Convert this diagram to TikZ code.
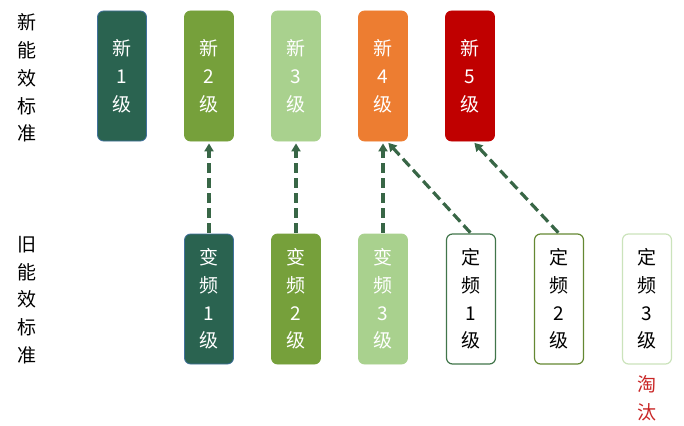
\documentclass[tikz,border=0pt]{standalone}
\usepackage{fontspec}
\newfontfamily\cjk{Noto Sans CJK SC}
\usepackage{xcolor}
\usepackage{tikz}
\usetikzlibrary{arrows.meta,positioning}
\definecolor{lvlone}{HTML}{2A6350}
\definecolor{lvltwo}{HTML}{76A03B}
\definecolor{lvlthree}{HTML}{A9D18E}
\definecolor{lvlfour}{HTML}{ED7D31}
\definecolor{lvlfive}{HTML}{C00000}
\definecolor{edgeblue}{HTML}{41719C}
\definecolor{arrgreen}{HTML}{386646}
\tikzset{
  lvl_box/.style = {rectangle, rounded corners=6pt, align=center, minimum width=49pt, minimum height=130pt, inner sep=0pt, font=\cjk\fontsize{19}{27.8}\selectfont, line width=0.8pt},
  lvl_new/.style = {lvl_box, white},
  lvl_fix/.style = {lvl_box, fill=white, text=black, line width=1.2pt},
  side_lbl/.style = {align=center, inner sep=0pt, font=\cjk\fontsize{19}{27.8}\selectfont},
  up_arr/.style = {draw=arrgreen, line width=3.2pt, dash pattern=on 10pt off 5pt, -{Triangle[width=9pt,length=8pt]}, shorten <=1pt, shorten >=2pt}
}
\begin{document}
\begin{tikzpicture}[x=1pt,y=-1pt]
  \useasboundingbox (0,0) rectangle (684,425);
  % side labels
  \node[side_lbl] (lblnew) at (27,78) {新\\能\\效\\标\\准};
  \node[side_lbl] (lblold) at (27,300) {旧\\能\\效\\标\\准};
  % new standard
  \node[lvl_new, fill=lvlone, draw=edgeblue] (new1) at (122,76) {新\\1\\级};
  \node[lvl_new, fill=lvltwo, draw=lvltwo] (new2) at (209,76) {新\\2\\级};
  \node[lvl_new, fill=lvlthree, draw=lvlthree] (new3) at (296,76) {新\\3\\级};
  \node[lvl_new, fill=lvlfour, draw=lvlfour] (new4) at (383,76) {新\\4\\级};
  \node[lvl_new, fill=lvlfive, draw=lvlfive] (new5) at (470,76) {新\\5\\级};
  % old standard
  \node[lvl_new, fill=lvlone, draw=edgeblue] (var1) at (209,299) {变\\频\\1\\级};
  \node[lvl_new, fill=lvltwo, draw=lvltwo] (var2) at (296,299) {变\\频\\2\\级};
  \node[lvl_new, fill=lvlthree, draw=lvlthree] (var3) at (383,299) {变\\频\\3\\级};
  \node[lvl_fix, draw=lvlone!70!lvltwo] (fix1) at (471,299) {定\\频\\1\\级};
  \node[lvl_fix, draw=lvltwo!85!black] (fix2) at (559,299) {定\\频\\2\\级};
  \node[lvl_fix, draw=lvlthree!60] (fix3) at (647,299) {定\\频\\3\\级};
  \node[side_lbl, text=lvlfive!85!white, below=11pt of fix3] (drop) {淘\\汰};
  % mapping
  \draw[up_arr] (var1.north) -- (new2.south);
  \draw[up_arr] (var2.north) -- (new3.south);
  \draw[up_arr] (var3.north) -- (new4.south);
  \draw[up_arr] (fix1.north) -- ([xshift=4pt]new4.south);
  \draw[up_arr] (fix2.north) -- ([xshift=3pt]new5.south);
\end{tikzpicture}
\end{document}
